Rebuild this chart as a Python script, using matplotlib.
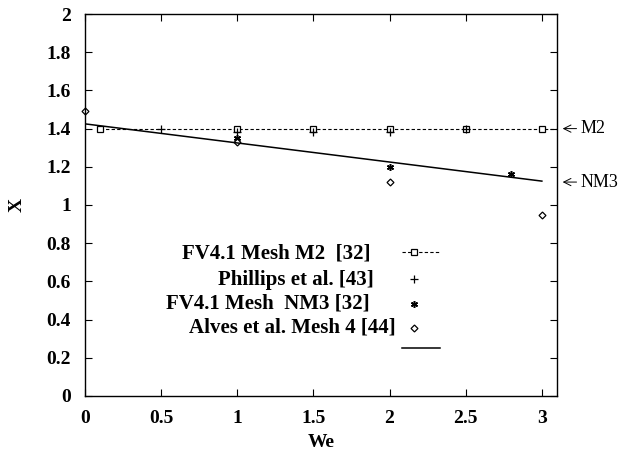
import matplotlib.pyplot as plt

plt.rcParams['font.family'] = ['Liberation Serif', 'DejaVu Serif']

# data
m2_we = [0.1, 1.0, 1.5, 2.0, 2.5, 3.0]
m2_x = [1.40, 1.40, 1.40, 1.40, 1.40, 1.40]

phillips_we = [0.5, 1.0, 1.5, 2.0, 2.5]
phillips_x = [1.40, 1.38, 1.38, 1.38, 1.40]

nm3_we = [1.0, 2.0, 2.8]
nm3_x = [1.35, 1.20, 1.16]

alves_we = [0.0, 1.0, 2.0, 3.0]
alves_x = [1.49, 1.33, 1.12, 0.95]

fit_we = [0.0, 3.0]
fit_x = [1.425, 1.125]

labels = ["FV4.1 Mesh M2  [32]", "Phillips et al. [43]",
          "FV4.1 Mesh  NM3 [32]", "Alves et al. Mesh 4 [44]"]

xticks = [0, 0.5, 1, 1.5, 2, 2.5, 3]
xticklabels = ["0", "0.5", "1", "1.5", "2", "2.5", "3"]
yticks = [0, 0.2, 0.4, 0.6, 0.8, 1, 1.2, 1.4, 1.6, 1.8, 2]
yticklabels = ["0", "0.2", "0.4", "0.6", "0.8", "1", "1.2", "1.4", "1.6", "1.8", "2"]

fig = plt.figure(figsize=(6.19, 4.53), dpi=100)
ax = fig.add_axes([0.137, 0.126, 0.763, 0.843])

dash = (0, (3, 2))
sq = dict(marker='s', ms=4.5, mfc='white', mec='black', mew=0.9)
plus = dict(marker='+', ms=6, mec='black', mew=0.9)
star = dict(marker=(6, 2, 0), ms=5, mec='black', mew=1.1)
diam = dict(marker='D', ms=3.5, mfc='white', mec='black', mew=0.9)

# M2 dashed line runs out to the right border
ax.plot(m2_we + [3.1], m2_x + [m2_x[-1]], color='black', lw=0.8, linestyle=dash)
ax.plot(m2_we, m2_x, linestyle='none', **sq)
ax.plot(phillips_we, phillips_x, linestyle='none', **plus)
ax.plot(nm3_we, nm3_x, linestyle='none', **star)
ax.plot(alves_we, alves_x, linestyle='none', clip_on=False, **diam)
ax.plot(fit_we, fit_x, color='black', lw=1.1)

ax.set_xlim(0, 3.1)
ax.set_ylim(0, 2)
ax.set_xticks(xticks)
ax.set_xticklabels(xticklabels)
ax.set_yticks(yticks)
ax.set_yticklabels(yticklabels)
ax.tick_params(direction='in', length=5, width=0.8, top=True, right=True,
               labelsize=14, pad=10)
for t in ax.get_xticklabels() + ax.get_yticklabels():
    t.set_fontweight('bold')
for s in ax.spines.values():
    s.set_linewidth(1.0)

ax.set_xlabel("We", fontsize=14, fontweight='bold')
ax.xaxis.set_label_coords(0.5, -0.1)
ax.set_ylabel("X", fontsize=14, fontweight='bold')
ax.yaxis.set_label_coords(-0.125, 0.5)

# gnuplot style key: right aligned text, sample to the right
text_right = [0.604, 0.612, 0.602, 0.659]
text_y = [0.374, 0.304, 0.243, 0.178]
for lab, xr, yy in zip(labels, text_right, text_y):
    ax.text(xr, yy, lab, transform=ax.transAxes, ha='right', va='center',
            fontsize=15, fontweight='bold')
kx0, kx1, km = 0.672, 0.752, 0.697
ax.plot([kx0, kx1], [0.377, 0.377], transform=ax.transAxes, color='black',
        lw=0.8, linestyle=dash, clip_on=False)
ax.plot([km], [0.377], transform=ax.transAxes, clip_on=False, **sq)
ax.plot([km], [0.306], transform=ax.transAxes, clip_on=False, **plus)
ax.plot([km], [0.241], transform=ax.transAxes, clip_on=False, **star)
ax.plot([km], [0.178], transform=ax.transAxes, clip_on=False, **diam)
ax.plot([kx0, kx1], [0.126, 0.126], transform=ax.transAxes, color='black',
        lw=1.1, clip_on=False)

# labels outside the right border
for name, yv in [("M2", m2_x[-1]), ("NM3", 1.12)]:
    ax.annotate(name, xy=(1.0, yv), xycoords=('axes fraction', 'data'),
                xytext=(17, 0), textcoords='offset points', ha='left',
                va='center', fontsize=13,
                arrowprops=dict(arrowstyle='->', lw=0.7, color='black',
                                shrinkA=1, shrinkB=4))

fig.savefig("out.png", dpi=100)
